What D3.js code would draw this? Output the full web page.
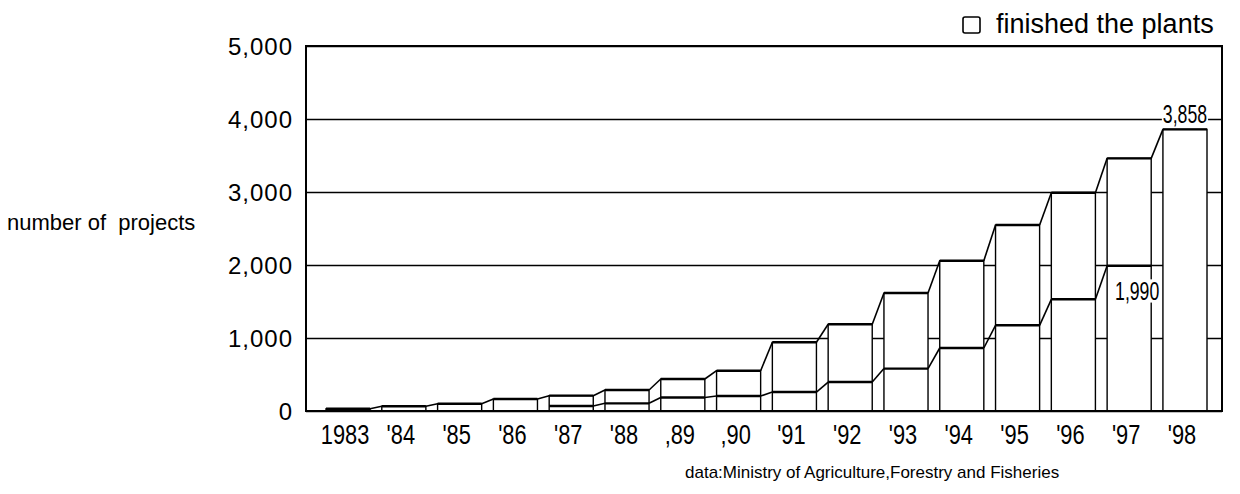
<!DOCTYPE html>
<html>
<head>
<meta charset="utf-8">
<script src="https://cdn.jsdelivr.net/npm/d3@7"></script>
<style>
  html, body { margin: 0; padding: 0; background: #fff; }
  svg { display: block; }
  text { font-family: "Liberation Sans", Arial, Helvetica, sans-serif; fill: #000; }
</style>
</head>
<body>
<svg id="chart" width="1240" height="494"></svg>
<script>
// ---- data ----
const years = ["1983","1984","1985","1986","1987","1988","1989","1990","1991","1992","1993","1994","1995","1996","1997","1998"];
const tickLabels = ["1983","'84","'85","'86","'87","'88",",89",",90","'91","'92","'93","'94","'95","'96","'97","'98"];
const totalProjects = [30, 65, 100, 164, 210, 288, 438, 552, 941, 1188, 1616, 2059, 2548, 2990, 3461, 3858];
const finishedPlants = [null, null, null, null, 68, 105, 184, 205, 260, 397, 581, 863, 1174, 1530, 1990, null];
const yTicks = [0, 1000, 2000, 3000, 4000, 5000];
const annotations = [
  { year: "1998", series: "total", text: "3,858" },
  { year: "1997", series: "finished", text: "1,990" }
];

// ---- layout ----
const svg = d3.select("#chart");
const plot = { left: 306, right: 1222, top: 46, bottom: 411 };

const x = d3.scaleBand().domain(years).range([326, 1207]).paddingInner(0.21).paddingOuter(0);
const y = d3.scaleLinear().domain([0, 5000]).range([plot.bottom, plot.top]);
const bw = x.bandwidth();

// gridlines + y labels
const yAxis = svg.append("g")
  .attr("transform", `translate(${plot.left},0)`)
  .call(d3.axisLeft(y).tickValues(yTicks).tickFormat(d3.format(","))
    .tickSize(-(plot.right - plot.left)).tickPadding(13));
yAxis.select(".domain").remove();
yAxis.selectAll(".tick line").attr("stroke", "#000").attr("stroke-width", 1.7);
yAxis.selectAll(".tick text")
  .attr("font-size", 24).attr("letter-spacing", 1)
  .attr("font-family", "Liberation Sans, Arial, sans-serif")
  .attr("dy", "0.36em").attr("fill", "#000");

// bars
const idx = d3.range(years.length);
svg.append("g").selectAll("rect").data(idx).join("rect")
  .attr("x", i => x(years[i]))
  .attr("y", i => y(totalProjects[i]))
  .attr("width", bw)
  .attr("height", i => y(0) - y(totalProjects[i]))
  .attr("fill", "#fff").attr("stroke", "#000").attr("stroke-width", 1.4);

// top edges (heavier)
svg.append("g").selectAll("line").data(idx).join("line")
  .attr("x1", i => x(years[i])).attr("x2", i => x(years[i]) + bw)
  .attr("y1", i => y(totalProjects[i])).attr("y2", i => y(totalProjects[i]))
  .attr("stroke", "#000").attr("stroke-width", 2.4);

// connectors for total
svg.append("g").selectAll("line").data(idx.slice(0, -1)).join("line")
  .attr("x1", i => x(years[i]) + bw).attr("y1", i => y(totalProjects[i]))
  .attr("x2", i => x(years[i + 1])).attr("y2", i => y(totalProjects[i + 1]))
  .attr("stroke", "#000").attr("stroke-width", 1.6);

// finished lines inside bars
const finIdx = idx.filter(i => finishedPlants[i] != null);
svg.append("g").selectAll("line").data(finIdx).join("line")
  .attr("x1", i => x(years[i])).attr("x2", i => x(years[i]) + bw)
  .attr("y1", i => y(finishedPlants[i])).attr("y2", i => y(finishedPlants[i]))
  .attr("stroke", "#000").attr("stroke-width", 2.4);

// connectors for finished
const finConn = idx.slice(0, -1).filter(i => finishedPlants[i] != null && finishedPlants[i + 1] != null);
svg.append("g").selectAll("line").data(finConn).join("line")
  .attr("x1", i => x(years[i]) + bw).attr("y1", i => y(finishedPlants[i]))
  .attr("x2", i => x(years[i + 1])).attr("y2", i => y(finishedPlants[i + 1]))
  .attr("stroke", "#000").attr("stroke-width", 1.6);

// frame
svg.append("rect")
  .attr("x", plot.left).attr("y", plot.top)
  .attr("width", plot.right - plot.left).attr("height", plot.bottom - plot.top)
  .attr("fill", "none").attr("stroke", "#000").attr("stroke-width", 2);

// x axis labels
const xAxis = svg.append("g")
  .attr("transform", `translate(0,${plot.bottom})`)
  .call(d3.axisBottom(x).tickFormat((d, i) => tickLabels[i]).tickSize(0).tickPadding(0));
xAxis.select(".domain").remove();
xAxis.selectAll(".tick text")
  .attr("font-size", 28).attr("font-family", "Liberation Sans, Arial, sans-serif")
  .attr("fill", "#000")
  .attr("y", 33).attr("dy", 0)
  .attr("transform", "translate(-3,0) scale(0.78,1)");

// value annotations
annotations.forEach(a => {
  const i = years.indexOf(a.year);
  const v = a.series === "total" ? totalProjects[i] : finishedPlants[i];
  let cx, base;
  if (a.series === "total") { cx = x(a.year) + bw / 2; base = y(v) - 6; }
  else { cx = x(a.year) + bw / 2 + 8; base = y(v) + 34; }
  const g = svg.append("g").attr("transform", `translate(${cx},${base})`);
  const bg = g.append("rect").attr("fill", "#fff");
  const t = g.append("text").text(a.text)
    .attr("font-size", 26).attr("text-anchor", "middle")
    .attr("transform", "scale(0.68,1)");
  const bb = t.node().getBBox();
  bg.attr("x", bb.x * 0.68 - 1).attr("y", bb.y + 3).attr("width", bb.width * 0.68 + 2).attr("height", bb.height - 6);
});

// y axis title
svg.append("text").text("number of  projects")
  .attr("x", 7).attr("y", 230).attr("font-size", 22)
  .style("white-space", "pre").attr("xml:space", "preserve");

// legend
svg.append("rect").attr("x", 963).attr("y", 17).attr("width", 17).attr("height", 16)
  .attr("rx", 2).attr("fill", "#fff").attr("stroke", "#000").attr("stroke-width", 1.6);
svg.append("text").text("finished the plants")
  .attr("x", 996).attr("y", 33).attr("font-size", 27);

// source
svg.append("text").text("data:Ministry of Agriculture,Forestry and Fisheries")
  .attr("x", 685).attr("y", 478).attr("font-size", 17);
</script>
</body>
</html>
